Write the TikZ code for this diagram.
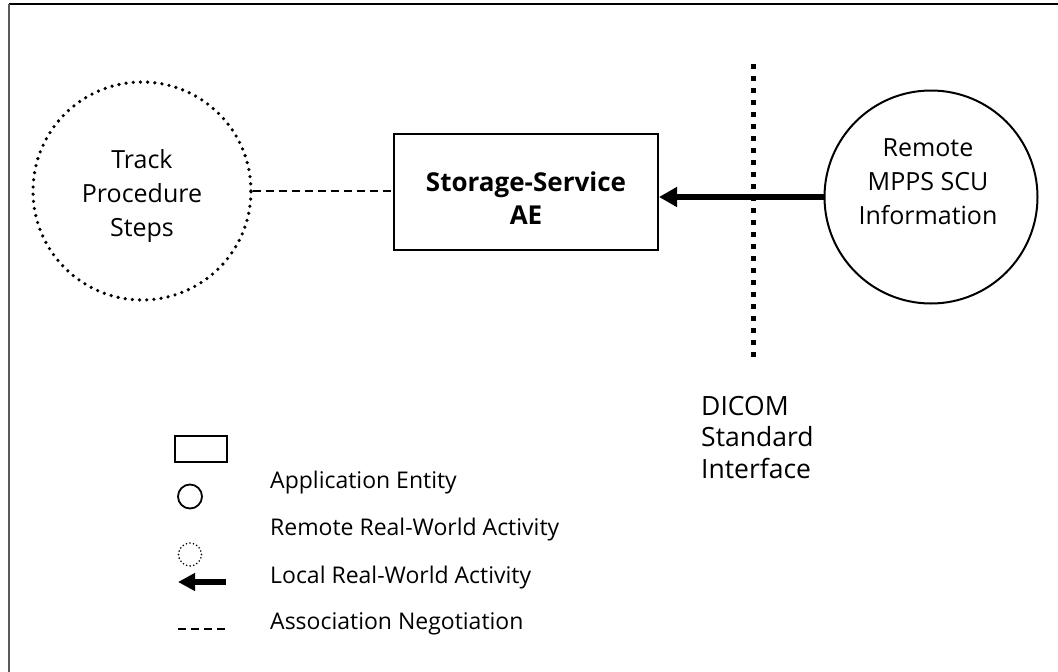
\documentclass[tikz,border=0pt]{standalone}
\usepackage{fontspec}
\setmainfont{Open Sans}
\usetikzlibrary{arrows.meta}
\tikzset{
  txt/.style={font=\fontsize{25}{34}\selectfont, align=center, inner sep=0pt},
  legtxt/.style={font=\fontsize{23}{26}\selectfont, anchor=base west, inner sep=0pt},
  dotcirc/.style={circle, draw, line width=3.6pt, dash pattern=on 0pt off 7.2pt, line cap=round, inner sep=0pt},
  solidcirc/.style={circle, draw, line width=2pt, inner sep=0pt},
  aebox/.style={rectangle, draw, line width=2pt, inner sep=0pt},
  bigarrow/.style={line width=6pt, -{Triangle[length=18pt,width=19pt]}},
  negline/.style={line width=1.5pt, dash pattern=on 8pt off 5pt},
  iface/.style={line width=5pt, dash pattern=on 5pt off 7pt},
}
\begin{document}
\begin{tikzpicture}[x=1pt,y=-1pt]
\useasboundingbox (0,0) rectangle (1058,672);
% frame
\draw[line width=2pt] (9,4) -- (1058,4);
\draw[line width=2pt, black!65] (9,4) -- (9,672);

% main diagram
\node[dotcirc, minimum size=218pt] (track) at (142,191) {};
\node[txt] (tracktxt) at (142,196) {Track\\Procedure\\Steps};
\node[aebox, minimum width=264pt, minimum height=116pt] (ae) at (526,192) {};
\node[txt, font=\fontsize{26}{33}\selectfont\bfseries] (aetxt) at (526,198) {Storage-Service\\AE};
\node[solidcirc, minimum size=213pt] (remote) at (931,197) {};
\node[txt] (remotetxt) at (928,182) {Remote\\MPPS SCU\\Information};

\coordinate (ifTop) at (753,64);
\coordinate (ifBot) at (753,360);
\draw[iface] (ifTop) -- (ifBot);

\draw[negline] (track.east) -- (track.east -| ae.west);
\draw[bigarrow] (remote.west) -- (remote.west -| ae.east);

\node[txt, align=left, anchor=north west, font=\fontsize{26.5}{31.5}\selectfont] (dicom) at (701,396) {DICOM\\Standard\\Interface};

% legend
\node[aebox, line width=1.8pt, minimum width=52pt, minimum height=26pt] (lrect) at (201,449) {};
\node[solidcirc, line width=1.8pt, minimum size=24pt] (lcirc) at (190,496.5) {};
\node[circle, draw, line width=1.8pt, dash pattern=on 0pt off 3.6pt, line cap=round, minimum size=23pt, inner sep=0pt] (ldot) at (190,554.5) {};
\coordinate (laS) at (226,582);
\coordinate (laE) at (178,582);
\draw[line width=6pt, -{Triangle[length=17pt,width=17pt]}] (laS) -- (laE);
\coordinate (ldS) at (178,629);
\coordinate (ldE) at (227,629);
\draw[negline] (ldS) -- (ldE);

\node[legtxt] (l1) at (270,488) {Application Entity};
\node[legtxt] (l2) at (270,535) {Remote Real-World Activity};
\node[legtxt] (l3) at (270,583) {Local Real-World Activity};
\node[legtxt] (l4) at (270,629) {Association Negotiation};
\end{tikzpicture}
\end{document}
